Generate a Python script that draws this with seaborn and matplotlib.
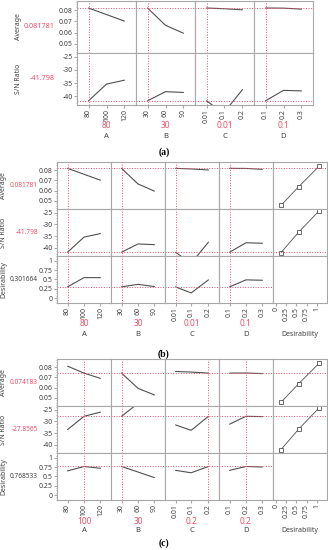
import matplotlib
matplotlib.use('Agg')
import matplotlib.pyplot as plt
from matplotlib.ticker import AutoMinorLocator
import seaborn as sns

W, H = 328, 550

factors = ["A", "B", "C", "D"]
a_levels = [80, 100, 120]
b_levels = [30, 60, 90]
c_levels = [0.01, 0.1, 0.2]
d_levels = [0.1, 0.2, 0.3]
levels = [a_levels, b_levels, c_levels, d_levels]
tick_labels = [["80", "100", "120"], ["30", "60", "90"], ["0.01", "0.1", "0.2"], ["0.1", "0.2", "0.3"]]

# settings of (a)/(b) and of (c)
setting_1 = [80, 30, 0.01, 0.1]
setting_1_txt = ["80", "30", "0.01", "0.1"]
setting_2 = [100, 30, 0.2, 0.2]
setting_2_txt = ["100", "30", "0.2", "0.2"]

current_1 = [0.081781, -41.798, 0.301664]
current_1_txt = ["0.081781", "-41.798", "0.301664"]
current_2 = [0.074183, -27.8565, 0.768533]
current_2_txt = ["0.074183", "-27.8565", "0.768533"]

avg_1 = [[0.0818, 0.0760, 0.0702], [0.0818, 0.0665, 0.0595], [0.0818, 0.0812, 0.0802], [0.0818, 0.0817, 0.0808]]
sn_1 = [[-41.8, -35.4, -33.9], [-41.8, -38.3, -38.6], [-41.8, -46.5, -37.5], [-41.8, -37.8, -38.0]]
des_1 = [[0.302, 0.55, 0.55], [0.302, 0.37, 0.31], [0.302, 0.14, 0.49], [0.302, 0.49, 0.48]]

avg_2 = [[0.0810, 0.0742, 0.0690], [0.0742, 0.0593, 0.0528], [0.0758, 0.0752, 0.0742], [0.0742, 0.0743, 0.0737]]
sn_2 = [[-33.5, -27.86, -26.1], [-27.86, -22.4, -21.5], [-31.5, -33.8, -27.86], [-31.2, -27.86, -28.0]]
des_2 = [[0.65, 0.7685, 0.72], [0.7685, 0.62, 0.47], [0.665, 0.60, 0.7685], [0.665, 0.7685, 0.755]]

# desirability function points
dfun_x = [0.12, 0.56, 1.05]
dfun_avg = [0.0455, 0.0640, 0.0836]
dfun_sn = [-42.0, -33.2, -24.4]
des_ticks = [0, 0.25, 0.5, 0.75, 1]
des_tick_labels = ["0", "0.25", "0.5", "0.75", "1"]

row_names = ["Average", "S/N Ratio", "Desirability"]
row_ylims = [(0.042, 0.088), (-43.4, -23.5), (-0.13, 1.13)]
row_yticks = [[0.05, 0.06, 0.07, 0.08], [-40, -35, -30, -25], des_ticks]
row_yticklabels = [["0.05", "0.06", "0.07", "0.08"], ["-40", "-35", "-30", "-25"], des_tick_labels]

RED = '#f2506a'
LINE = '#505050'
FRAME = '#a8a8a8'
TXT = '#404040'

sns.set_style("white")
plt.rcParams['font.family'] = ['Noto Sans', 'DejaVu Sans']


def px_axes(fig, x0, y0, w, h):
    return fig.add_axes([x0 / W, 1 - (y0 + h) / H, w / W, h / H])


def fig_text(fig, x, y, s, **kw):
    fig.text(x / W, 1 - y / H, s, **kw)


def style_cell(ax):
    for sp in ax.spines.values():
        sp.set_color(FRAME)
        sp.set_linewidth(0.8)
    ax.tick_params(length=0, labelsize=5, colors=TXT, pad=1)
    ax.set_xticks([])
    ax.set_yticks([])
    ax.set_xlabel("")
    ax.set_ylabel("")


def pad_lim(lv, frac=0.32):
    span = lv[-1] - lv[0]
    return lv[0] - frac * span, lv[-1] + frac * span


def draw_profiler(fig, left, top, col_w, row_h, curves, setting, setting_txt, current, current_txt,
                  with_des, ylab_x, val_x, val_size):
    n_rows = len(curves)
    n_cols = 5 if with_des else 4
    bottom = top + n_rows * row_h
    for r in range(n_rows):
        for c in range(n_cols):
            ax = px_axes(fig, left + c * col_w, top + r * row_h, col_w, row_h)
            if c < 4:
                sns.lineplot(x=levels[c], y=curves[r][c], ax=ax, color=LINE, lw=0.8,
                             estimator=None, sort=False)
                ax.axvline(setting[c], color=RED, ls=':', lw=0.7)
                ax.axhline(current[r], color=RED, ls=':', lw=0.7)
                ax.set_xlim(pad_lim(levels[c]))
            else:
                if r < 2:
                    dy = dfun_avg if r == 0 else dfun_sn
                    sns.lineplot(x=dfun_x, y=dy, ax=ax, color=LINE, lw=0.6, marker='s',
                                 markersize=2.5, markerfacecolor='white', markeredgecolor='#303030',
                                 markeredgewidth=0.5, estimator=None, sort=False)
                    ax.axhline(current[r], color=RED, ls=':', lw=0.7)
                ax.set_xlim(-0.074, 1.25)
            ax.set_ylim(row_ylims[r])
            style_cell(ax)
            if c == 0:
                ax.set_yticks(row_yticks[r])
                ax.set_yticklabels(row_yticklabels[r])
                ax.yaxis.set_minor_locator(AutoMinorLocator(4))
                ax.tick_params(axis='y', which='major', length=2, color=FRAME, left=True)
                ax.tick_params(axis='y', which='minor', length=1, color=FRAME, left=True)
            if r == n_rows - 1:
                if c < 4:
                    ax.set_xticks(levels[c])
                    ax.set_xticklabels(tick_labels[c], rotation=90)
                else:
                    ax.set_xticks(des_ticks)
                    ax.set_xticklabels(des_tick_labels, rotation=90)
                ax.tick_params(axis='x', length=2, color=FRAME, bottom=True)
        yc = top + r * row_h + row_h / 2
        fig_text(fig, ylab_x, yc, row_names[r], rotation=90, ha='center', va='center',
                 fontsize=5, color=TXT)
        val_color = TXT if r == 2 else RED
        fig_text(fig, val_x, yc, current_txt[r], ha='right', va='center', fontsize=val_size,
                 color=val_color)

    for c in range(4):
        xc = left + c * col_w + col_w / 2
        fig_text(fig, xc, bottom + 21, setting_txt[c], ha='center', va='center', fontsize=6, color=RED)
        fig_text(fig, xc, bottom + 31, factors[c], ha='center', va='center', fontsize=5.5, color=TXT)
    if with_des:
        xc = left + 4 * col_w + col_w / 2
        fig_text(fig, xc, bottom + 31, "Desirability", ha='center', va='center', fontsize=5, color=TXT)


fig = plt.figure(figsize=(W / 100, H / 100), dpi=100)

draw_profiler(fig, 77, 1, 59, 52, [avg_1, sn_1], setting_1, setting_1_txt, current_1, current_1_txt,
              False, 18, 55, 5.2)
draw_profiler(fig, 57, 162, 54, 47, [avg_1, sn_1, des_1], setting_1, setting_1_txt, current_1,
              current_1_txt, True, 4, 38, 4.7)
draw_profiler(fig, 57, 359, 54, 47, [avg_2, sn_2, des_2], setting_2, setting_2_txt, current_2,
              current_2_txt, True, 4, 38, 4.7)

for lab, y in [("(a)", 152), ("(b)", 354), ("(c)", 543)]:
    fig_text(fig, 164, y, lab, ha='center', va='center', fontsize=7, fontweight='bold',
             family='Liberation Serif', color='black')

plt.savefig('out.png', dpi=100, facecolor='white')
plt.close()
